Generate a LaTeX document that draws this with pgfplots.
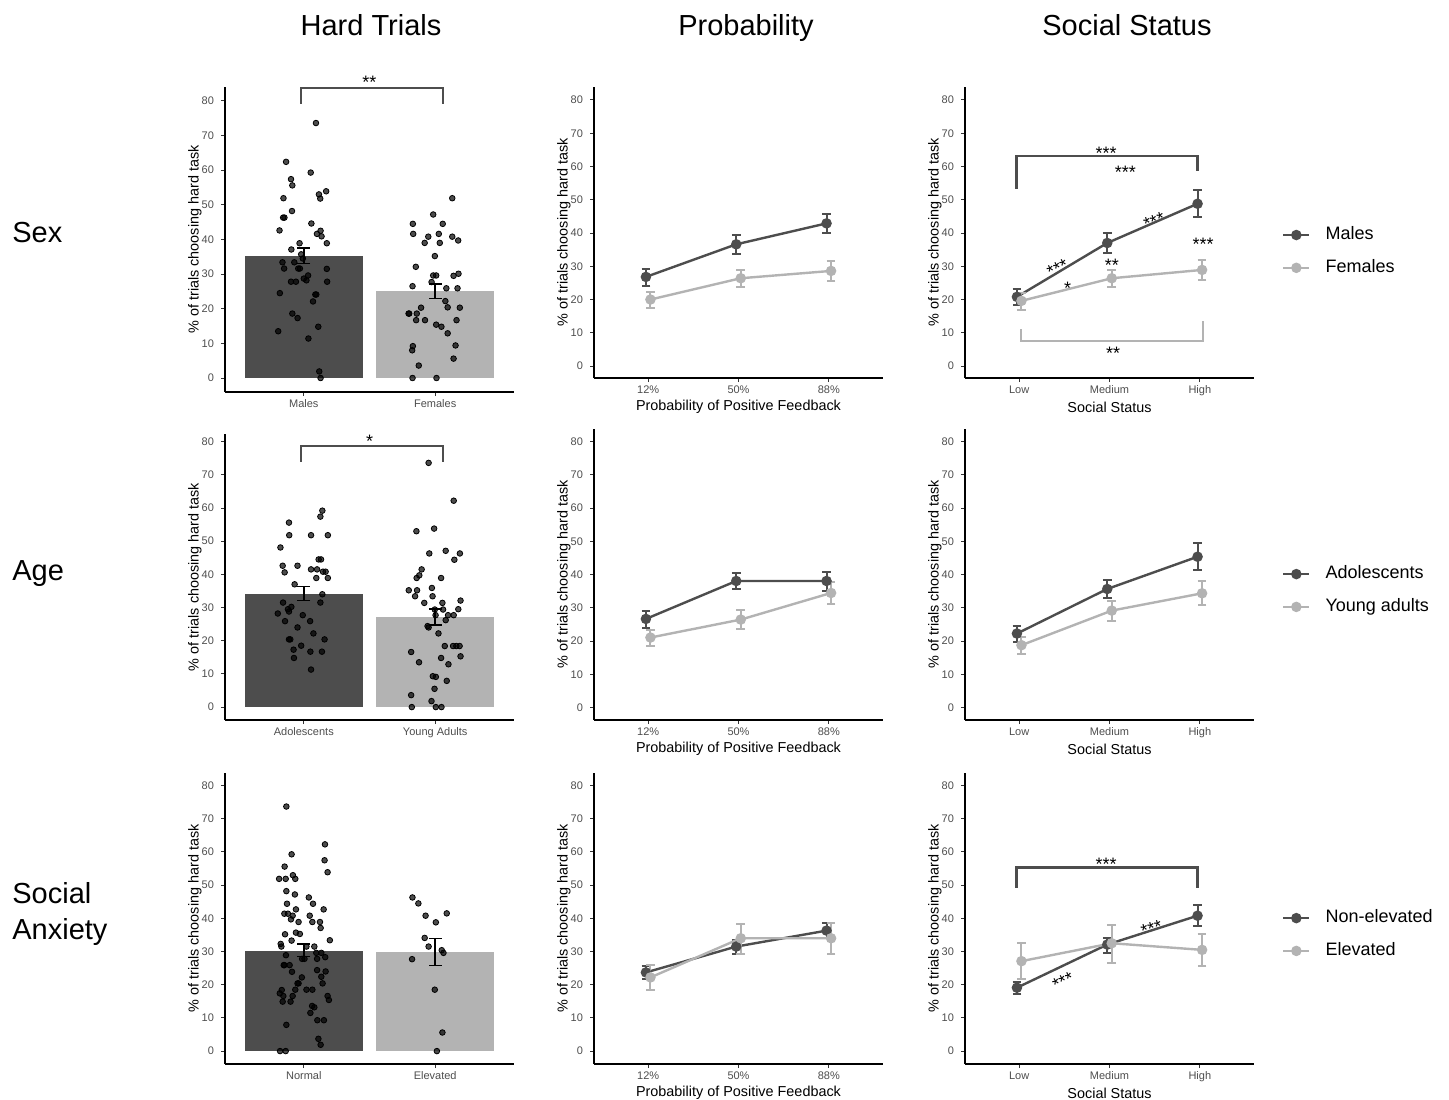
\documentclass[border=0pt]{standalone}
\usepackage{fontspec}
\setmainfont{Liberation Sans}
\usepackage{pgfplots}
\pgfplotsset{compat=1.18}
\definecolor{dk}{HTML}{4D4D4D}
\definecolor{lt}{HTML}{B3B3B3}
\definecolor{tk}{HTML}{4D4D4D}

\pgfplotsset{
  panel/.style={scale only axis, width=144.5pt, anchor=south west, clip=false,
    axis x line*=bottom, axis y line*=left,
    axis line style={line width=0.7pt, black},
    tick style={line width=0.5pt, black!80},
    major tick length=2pt, tick align=outside,
    ytick={0,10,...,80},
    tick label style={font=\fontsize{5.5}{6}\selectfont, text=tk},
    xticklabel style={text height=4pt, text depth=1.2pt, yshift=2pt},
    /pgf/number format/assume math mode=true,
    ylabel={\% of trials choosing hard task},
    ylabel style={at={(axis description cs:-0.1038,0.5)}, anchor=center, font=\fontsize{7.2}{8}\selectfont},
    xlabel style={at={(axis description cs:0.5,0)}, anchor=center, yshift=-14.5pt, font=\fontsize{7.2}{8}\selectfont}},
  barpanel/.style={panel, xmin=0.4, xmax=2.6, xtick={1,2}},
  probpanel/.style={panel, xmin=0.4, xmax=3.6, xtick={1,2,3}, xticklabels={12\%,50\%,88\%},
    xlabel={Probability of Positive Feedback}},
  statpanel/.style={panel, xmin=0.4, xmax=3.6, xtick={1,2,3}, xticklabels={Low,Medium,High},
    xlabel={Social Status},
    legend style={anchor=west, draw=none, fill=none, inner sep=0pt,
      font=\fontsize{9}{10}\selectfont, row sep=8pt, column sep=7.5pt,
      nodes={inner sep=0pt, text height=6.5pt, text depth=1.9pt}},
    legend cell align=left,
    legend image code/.code={\draw[mark repeat=2,mark phase=2,#1] plot coordinates {(0pt,0pt) (6.5pt,0pt) (13pt,0pt)};}},
  dkbar/.style={ybar, bar width=0.9, bar shift=0pt, fill=dk, draw=none},
  ltbar/.style={ybar, bar width=0.9, bar shift=0pt, fill=lt, draw=none},
  pts/.style={only marks, mark=*, mark size=1.4pt, mark options={draw=none, fill=black, fill opacity=0.7}},
  barerr/.style={black, mark=none, error bars/.cd, y dir=both, y explicit,
    error bar style={line width=0.8pt}, error mark options={rotate=90, mark size=3.2pt, line width=0.8pt}},
  dkline/.style={color=dk, line width=1.2pt, mark=*, mark size=2pt, mark options={fill=dk, draw=dk},
    error bars/.cd, y dir=both, y explicit, error bar style={line width=1pt},
    error mark options={rotate=90, mark size=2.2pt, line width=1pt}},
  ltline/.style={color=lt, line width=1.2pt, mark=*, mark size=2pt, mark options={fill=lt, draw=lt},
    error bars/.cd, y dir=both, y explicit, error bar style={line width=1pt},
    error mark options={rotate=90, mark size=2.2pt, line width=1pt}},
}
\tikzset{star/.style={font=\fontsize{9}{9}\selectfont, inner sep=0pt, yshift=-2pt}}

\begin{document}
\begin{tikzpicture}
\path[use as bounding box] (0,0) rectangle (724.5pt,-549.5pt);

% column titles and row labels
\node[anchor=base, font=\fontsize{14.5}{17}\selectfont] at (185.5pt,-17.5pt) {Hard Trials};
\node[anchor=base, font=\fontsize{14.5}{17}\selectfont] at (373pt,-17.5pt) {Probability};
\node[anchor=base, font=\fontsize{14.5}{17}\selectfont] at (563.5pt,-17.5pt) {Social Status};
\node[anchor=base west, font=\fontsize{14.5}{17}\selectfont, inner sep=0pt] at (6pt,-121pt) {Sex};
\node[anchor=base west, font=\fontsize{14.5}{17}\selectfont, inner sep=0pt] at (6pt,-290pt) {Age};
\node[anchor=base west, font=\fontsize{14.5}{17}\selectfont, inner sep=0pt] at (6pt,-451.5pt) {Social};
\node[anchor=base west, font=\fontsize{14.5}{17}\selectfont, inner sep=0pt] at (6pt,-469.5pt) {Anxiety};

% ---------- row 1: sex ----------
\begin{axis}[barpanel, at={(112.5pt,-196pt)}, height=152.5pt, ymin=-4.04, ymax=84, xticklabels={Males,Females}]
\addplot[dkbar] coordinates {(1,35.3)};
\addplot[ltbar] coordinates {(2,25.0)};
\addplot[pts] coordinates {(1.0925,73.6) (0.865,62.4) (0.9025,57.4) (0.9125,55.6) (1.0525,59.3) (0.845,51.9) (1.17,53.9) (1.115,53.0) (1.125,51.8) (0.91,48.2) (0.8425,46.3) (0.8525,46.3) (0.815,42.6) (1.0575,44.6) (1.1275,42.5) (1.1,41.6) (1.135,40.9) (1.175,38.9) (0.9675,38.9) (0.905,37.1) (0.98,35.7) (0.9925,34.5) (0.8375,33.4) (0.9275,33.4) (0.85,31.6) (0.9575,31.6) (0.97,31.6) (1.175,31.5) (1.0325,29.6) (1.0,28.7) (1.02,28.2) (0.9025,27.8) (0.94,27.8) (1.1775,27.8) (0.8175,24.5) (1.0875,24.1) (1.095,24.1) (1.07,22.1) (0.9125,18.6) (0.9525,17.3) (0.805,13.5) (1.11,14.8) (1.035,11.4) (1.1175,1.9) (1.1275,0)};
\addplot[pts] coordinates {(2.13,51.9) (1.985,47.2) (1.83,44.5) (2.0575,44.5) (1.8325,41.6) (1.9475,40.8) (2.0275,41.6) (2.13,40.8) (1.92,39.0) (2.035,39.0) (2.175,39.7) (1.9975,35.2) (1.8525,32.1) (1.985,29.6) (2.0075,29.6) (2.14,29.5) (2.1775,30.1) (1.9725,27.7) (1.8275,26.5) (2.085,25.9) (2.17,25.9) (2.0775,22.2) (1.7975,18.6) (1.8025,18.6) (1.86,18.6) (1.8925,20.3) (2.095,20.4) (2.1875,20.3) (1.855,16.7) (1.9225,16.7) (2.1625,16.7) (2.0075,15.4) (2.0475,14.8) (2.095,12.9) (1.83,9.2) (1.825,8.0) (2.155,9.4) (2.14,5.6) (1.875,3.6) (1.8275,0) (2.01,0)};
\addplot[barerr] coordinates {(1,35.3) += (0,2.3) -= (0,2.3)};
\addplot[barerr] coordinates {(2,25.0) += (0,2.1) -= (0,2.1)};
\draw[dk, line width=1.1pt] (axis cs:0.98,79.2) -- (axis cs:0.98,83.8) -- (axis cs:2.06,83.8) -- (axis cs:2.06,79.2);
\node[star] at (axis cs:1.5,86.6) {**};
\end{axis}

\begin{axis}[probpanel, at={(297pt,-189pt)}, height=145.5pt, ymin=-3.6, ymax=83.9]
\addplot[dkline] coordinates {(0.975,26.8) += (0,2.5) -= (0,2.7) (1.975,36.6) += (0,2.9) -= (0,3.0) (2.975,42.9) += (0,2.9) -= (0,2.9)};
\addplot[ltline] coordinates {(1.025,20.0) += (0,2.4) -= (0,2.4) (2.025,26.4) += (0,2.5) -= (0,2.5) (3.025,28.6) += (0,3.1) -= (0,3.1)};
\end{axis}

\begin{axis}[statpanel, at={(482.5pt,-189pt)}, height=145.5pt, ymin=-3.6, ymax=83.9,
  legend style={at={(axis description cs:1.096,0.435)}}]
\addplot[dkline] coordinates {(0.975,20.8) += (0,2.4) -= (0,2.4) (1.975,37.0) += (0,3.0) -= (0,3.0) (2.975,48.8) += (0,4.2) -= (0,3.9)};
\addlegendentry{Males}
\addplot[ltline] coordinates {(1.025,19.6) += (0,2.5) -= (0,2.7) (2.025,26.4) += (0,2.6) -= (0,2.7) (3.025,28.9) += (0,3.05) -= (0,3.05)};
\addlegendentry{Females}
\draw[dk, line width=1.1pt] (axis cs:0.97,53.3) -- (axis cs:0.97,63.1) -- (axis cs:2.975,63.1) -- (axis cs:2.975,58.6);
\draw[lt, line width=1.1pt] (axis cs:1.018,11.1) -- (axis cs:1.018,7.5) -- (axis cs:3.033,7.5) -- (axis cs:3.033,13.6);
\node[star] at (axis cs:1.963,65.2) {***};
\node[star] at (axis cs:2.176,59.4) {***};
\node[star, rotate=25] at (axis cs:1.425,30.6) {***};
\node[star] at (axis cs:1.535,24.6) {*};
\node[star] at (axis cs:2.026,31.5) {**};
\node[star, rotate=18] at (axis cs:2.494,44.8) {***};
\node[star] at (axis cs:3.037,37.7) {***};
\node[star] at (axis cs:2.04,5.0) {**};
\end{axis}

% ---------- row 2: age ----------
\begin{axis}[barpanel, at={(112.5pt,-360pt)}, height=143pt, ymin=-3.9, ymax=82.3, xticklabels={Adolescents,Young Adults}]
\addplot[dkbar] coordinates {(1,34.2)};
\addplot[ltbar] coordinates {(2,27.1)};
\addplot[pts] coordinates {(1.141,59.2) (1.126,57.4) (0.887,55.6) (0.889,51.8) (1.055,51.8) (1.183,51.8) (0.822,48.1) (1.113,44.5) (1.131,44.5) (0.839,42.6) (0.854,40.6) (0.952,42.6) (1.055,41.5) (1.101,41.5) (1.146,40.8) (1.166,40.8) (1.095,38.9) (1.183,38.9) (0.930,37.0) (1.141,34.0) (0.842,31.5) (1.126,31.5) (0.905,30.2) (0.879,29.5) (0.887,28.8) (0.802,28.2) (0.992,27.7) (0.857,25.9) (1.048,25.9) (0.952,24.0) (1.073,22.2) (0.887,20.4) (0.897,20.4) (1.158,20.4) (0.980,18.5) (0.922,17.3) (1.050,16.7) (1.138,16.7) (0.925,14.8) (1.055,11.3)};
\addplot[pts] coordinates {(1.950,73.6) (2.141,62.2) (1.857,53.0) (1.992,53.8) (1.955,46.3) (2.080,47.1) (2.188,46.3) (2.146,44.4) (1.897,41.5) (1.879,39.7) (1.859,38.9) (2.045,38.9) (1.799,35.2) (1.862,35.2) (1.975,35.9) (1.847,33.4) (1.980,33.4) (2.193,32.1) (1.917,31.4) (2.055,31.4) (1.997,29.4) (2.060,29.4) (2.176,29.5) (2.003,27.7) (2.098,27.7) (2.141,27.7) (2.080,26.2) (1.942,24.4) (1.950,24.0) (2.025,22.2) (2.073,18.4) (2.136,18.4) (2.161,18.4) (2.186,18.4) (1.817,16.6) (2.193,15.3) (1.877,13.5) (2.101,12.9) (2.045,14.8) (1.982,9.3) (2.005,9.1) (2.088,7.9) (1.995,5.5) (1.817,3.6) (1.972,1.8) (1.822,0) (2.005,0) (2.048,0)};
\addplot[barerr] coordinates {(1,34.2) += (0,2.1) -= (0,2.1)};
\addplot[barerr] coordinates {(2,27.1) += (0,2.5) -= (0,2.3)};
\draw[dk, line width=1.1pt] (axis cs:0.98,74.0) -- (axis cs:0.98,78.8) -- (axis cs:2.06,78.8) -- (axis cs:2.06,74.0);
\node[star] at (axis cs:1.5,81.4) {*};
\end{axis}

\begin{axis}[probpanel, at={(297pt,-360pt)}, height=145.5pt, ymin=-3.7, ymax=83.8]
\addplot[dkline] coordinates {(0.975,26.7) += (0,2.5) -= (0,2.6) (1.975,38.1) += (0,2.4) -= (0,2.4) (2.975,38.1) += (0,2.8) -= (0,2.9)};
\addplot[ltline] coordinates {(1.025,21.1) += (0,2.3) -= (0,2.6) (2.025,26.5) += (0,2.9) -= (0,2.9) (3.025,34.5) += (0,3.2) -= (0,3.3)};
\end{axis}

\begin{axis}[statpanel, at={(482.5pt,-360pt)}, height=145.5pt, ymin=-3.7, ymax=83.8,
  legend style={at={(axis description cs:1.096,0.445)}}]
\addplot[dkline] coordinates {(0.975,22.3) += (0,2.4) -= (0,2.5) (1.975,35.7) += (0,2.7) -= (0,2.6) (2.975,45.4) += (0,4.0) -= (0,4.0)};
\addlegendentry{Adolescents}
\addplot[ltline] coordinates {(1.025,18.8) += (0,2.6) -= (0,2.7) (2.025,29.2) += (0,2.9) -= (0,3.0) (3.025,34.4) += (0,3.7) -= (0,3.5)};
\addlegendentry{Young adults}
\end{axis}

% ---------- row 3: social anxiety ----------
\begin{axis}[barpanel, at={(112.5pt,-532pt)}, height=145.5pt, ymin=-3.9, ymax=83.8, xticklabels={Normal,Elevated}]
\addplot[dkbar] coordinates {(1,30.3)};
\addplot[ltbar] coordinates {(2,29.8)};
\addplot[pts] coordinates {(0.867,73.7) (1.161,62.3) (1.158,57.5) (0.907,59.3) (0.854,55.6) (0.917,53.0) (1.181,53.9) (0.812,51.9) (0.862,51.9) (0.935,51.9) (0.867,48.2) (0.932,47.2) (1.038,46.3) (0.872,44.4) (1.070,44.4) (0.940,42.7) (1.151,42.7) (0.852,41.4) (0.879,41.4) (0.915,40.8) (1.045,40.8) (0.902,39.7) (0.960,38.9) (1.065,38.9) (1.123,38.9) (0.940,35.7) (0.970,35.3) (0.857,35.2) (1.128,37.1) (0.907,33.3) (1.198,33.4) (1.080,31.5) (0.824,32.3) (0.829,31.5) (1.020,31.5) (0.864,28.9) (0.987,27.8) (1.005,27.8) (1.095,29.6) (1.133,29.6) (1.101,27.8) (1.163,28.3) (0.847,25.9) (0.852,25.9) (0.892,25.9) (0.910,23.9) (1.101,24.4) (1.166,24.0) (0.985,22.2) (1.133,22.4) (0.952,20.4) (0.960,20.4) (1.143,20.4) (0.935,18.5) (0.832,18.4) (1.020,18.5) (1.065,18.5) (0.817,17.4) (0.844,16.6) (0.915,16.6) (1.181,16.6) (1.191,15.4) (0.839,14.9) (0.899,14.9) (1.063,13.6) (1.080,13.2) (1.050,11.5) (1.103,9.3) (1.153,9.3) (0.867,7.9) (1.111,3.7) (1.128,1.9) (0.819,0) (0.862,0)};
\addplot[pts] coordinates {(1.827,46.3) (1.872,44.5) (1.927,40.8) (2.088,41.5) (2.005,38.8) (1.920,34.1) (1.950,31.5) (2.050,30.4) (2.063,29.6) (1.824,27.7) (1.997,18.5) (2.055,5.6) (2.013,0)};
\addplot[barerr] coordinates {(1,30.4) += (0,1.9) -= (0,1.9)};
\addplot[barerr] coordinates {(2,29.9) += (0,4.05) -= (0,4.05)};
\end{axis}

\begin{axis}[probpanel, at={(297pt,-532pt)}, height=145.5pt, ymin=-3.9, ymax=83.8]
\addplot[dkline] coordinates {(0.975,23.7) += (0,1.9) -= (0,2.1) (1.975,31.5) += (0,2.0) -= (0,2.3) (2.975,36.3) += (0,2.4) -= (0,2.3)};
\addplot[ltline] coordinates {(1.025,22.2) += (0,3.7) -= (0,3.8) (2.025,34.0) += (0,4.3) -= (0,4.6) (3.025,34.0) += (0,4.5) -= (0,4.6)};
\end{axis}

\begin{axis}[statpanel, at={(482.5pt,-532pt)}, height=145.5pt, ymin=-3.9, ymax=83.8,
  legend style={at={(axis description cs:1.096,0.445)}}]
\addplot[dkline] coordinates {(0.975,19.1) += (0,1.8) -= (0,1.9) (1.975,32.1) += (0,2.0) -= (0,2.5) (2.975,40.8) += (0,3.2) -= (0,3.1)};
\addlegendentry{Non-elevated}
\addplot[ltline] coordinates {(1.025,27.1) += (0,5.4) -= (0,5.5) (2.025,32.5) += (0,5.5) -= (0,5.9) (3.025,30.5) += (0,4.8) -= (0,4.9)};
\addlegendentry{Elevated}
\draw[dk, line width=1.1pt] (axis cs:0.97,49.2) -- (axis cs:0.97,55.3) -- (axis cs:2.975,55.3) -- (axis cs:2.975,49.2);
\node[star] at (axis cs:1.963,57.6) {***};
\node[star, rotate=26] at (axis cs:1.487,22.2) {***};
\node[star, rotate=16] at (axis cs:2.465,38.0) {***};
\end{axis}
\end{tikzpicture}
\end{document}
